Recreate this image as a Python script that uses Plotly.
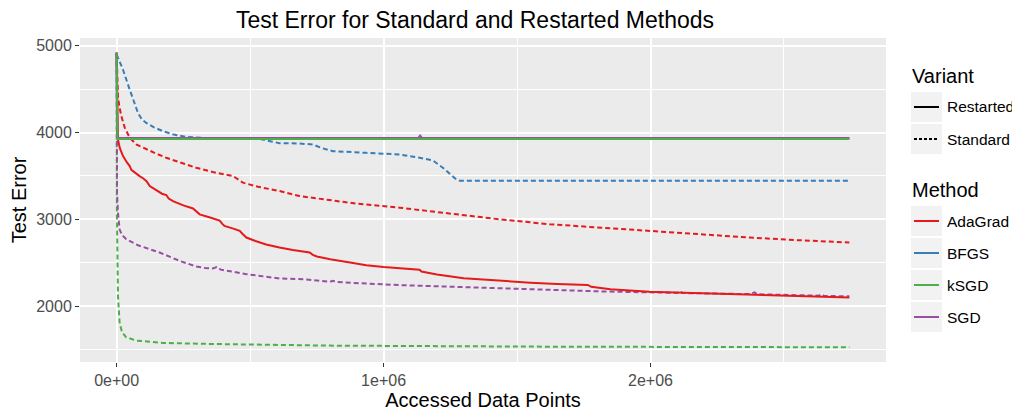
import plotly.graph_objects as go

# ---------------- data ----------------
methods = ["AdaGrad", "BFGS", "kSGD", "SGD"]
variants = ["Restarted", "Standard"]
colors = {"AdaGrad": "#E41A1C", "BFGS": "#377EB8", "kSGD": "#4DAF4A", "SGD": "#984EA3"}

adagrad_std_x = [0, 2000, 5000, 10000, 18000, 30000, 49000, 75000, 111000, 150000, 186000, 240000,
                 298000, 360000, 436000, 450000, 473000, 530000, 610000, 685000, 798000, 900000,
                 1060000, 1250000, 1434000, 1622000, 1810000, 1996000, 2200000, 2371000, 2550000, 2745000]
adagrad_std_y = [4920, 4650, 4417, 4300, 4187, 4060, 3939, 3860, 3805, 3755, 3709, 3650,
                 3594, 3545, 3498, 3470, 3422, 3375, 3326, 3268, 3222, 3180,
                 3134, 3065, 3000, 2943, 2905, 2859, 2820, 2790, 2760, 2732]

bfgs_std_x = [0, 24000, 49000, 80000, 95000, 111000, 140000, 174000, 210000, 261000, 340000, 423000,
              536000, 575000, 610000, 685000, 735000, 770000, 810000, 935000, 1060000, 1135000,
              1185000, 1222000, 1250000, 1272000, 1285000, 2745000]
bfgs_std_y = [4900, 4724, 4494, 4226, 4150, 4111, 4060, 4015, 3980, 3950, 3935, 3931,
              3927, 3900, 3878, 3874, 3862, 3820, 3785, 3766, 3747, 3709,
              3678, 3594, 3520, 3460, 3445, 3445]

ksgd_std_x = [0, 500, 1000, 5000, 11000, 20000, 36000, 74000, 174000, 360000, 798000, 1622000, 2745000]
ksgd_std_y = [4900, 4030, 3077, 2118, 1813, 1700, 1640, 1602, 1575, 1563, 1544, 1532, 1525]

sgd_std_x = [0, 1500, 5000, 11000, 20000, 36000, 80000, 161000, 236000, 298000, 330000, 360000,
             375000, 390000, 486000, 610000, 698000, 798000, 810000, 822000, 1060000, 1300000,
             1434000, 1622000, 1810000, 1996000, 2100000, 2110000, 2120000, 2371000, 2390000,
             2400000, 2630000, 2640000, 2650000, 2745000]
sgd_std_y = [4920, 3300, 3077, 2885, 2820, 2770, 2701, 2617, 2521, 2456, 2440, 2433,
             2450, 2420, 2368, 2318, 2310, 2279, 2292, 2277, 2241, 2215,
             2203, 2187, 2169, 2158, 2152, 2172, 2150, 2138, 2158,
             2136, 2120, 2136, 2118, 2112]

adagrad_rst_x = [0, 3000, 5000, 12000, 24000, 40000, 49000, 55000, 70000, 86000, 100000, 112000,
                 124000, 150000, 170000, 186000, 195000, 211000, 250000, 286000, 300000, 311000,
                 350000, 386000, 395000, 404000, 440000, 461000, 472000, 486000, 520000, 560000,
                 610000, 660000, 723000, 735000, 750000, 800000, 880000, 935000, 1000000, 1060000,
                 1135000, 1142000, 1200000, 1300000, 1434000, 1550000, 1650000, 1765000, 1778000,
                 1850000, 1996000, 2150000, 2371000, 2550000, 2745000]
adagrad_rst_y = [4920, 4100, 3920, 3820, 3728, 3650, 3613, 3570, 3530, 3498, 3470, 3440,
                 3383, 3330, 3295, 3280, 3240, 3210, 3160, 3125, 3080, 3057,
                 3020, 2985, 2950, 2923, 2890, 2866, 2830, 2790, 2750, 2710,
                 2675, 2645, 2617, 2590, 2572, 2540, 2500, 2470, 2450, 2432,
                 2418, 2398, 2365, 2320, 2290, 2270, 2255, 2243, 2222,
                 2195, 2166, 2150, 2128, 2115, 2100]

bfgs_rst_x = [0, 2000, 2745000]
bfgs_rst_y = [4920, 3935, 3935]

sgd_rst_x = [0, 2000, 1130000, 1137000, 1144000, 2745000]
sgd_rst_y = [4920, 3937, 3937, 3965, 3937, 3937]

ksgd_rst_x = [0, 3000, 2745000]
ksgd_rst_y = [4920, 3925, 3925]

x_tickvals = [0, 1000000, 2000000]
x_ticktext = ["0e+00", "1e+06", "2e+06"]
y_tickvals = [2000, 3000, 4000, 5000]
y_ticktext = ["2000", "3000", "4000", "5000"]

# ---------------- figure ----------------
# the page body adds an 8px offset, so the figure is 8px smaller and all
# reference pixel positions are shifted by OFF.
OFF = 8
W, H = 1020 - OFF, 411 - OFF
L, R, T, B = 80 - OFF, 134, 38 - OFF, 49
FONT = "Liberation Sans, Arial, sans-serif"
DASH = "5px,3px"

fig = go.Figure()

series = [
    ("AdaGrad", "Standard", adagrad_std_x, adagrad_std_y),
    ("BFGS", "Standard", bfgs_std_x, bfgs_std_y),
    ("kSGD", "Standard", ksgd_std_x, ksgd_std_y),
    ("SGD", "Standard", sgd_std_x, sgd_std_y),
    ("AdaGrad", "Restarted", adagrad_rst_x, adagrad_rst_y),
    ("BFGS", "Restarted", bfgs_rst_x, bfgs_rst_y),
    ("SGD", "Restarted", sgd_rst_x, sgd_rst_y),
    ("kSGD", "Restarted", ksgd_rst_x, ksgd_rst_y),
]
for m, v, xs, ys in series:
    fig.add_trace(go.Scatter(
        x=xs, y=ys, mode="lines", name=f"{m} ({v})", showlegend=False,
        line=dict(color=colors[m], width=2, dash=("solid" if v == "Restarted" else DASH)),
        hoverinfo="skip",
    ))

xmin, xmax = 0, 2745000
ymin, ymax = 1525, 4920
xpad = (xmax - xmin) * 0.05
ypad = (ymax - ymin) * 0.05

fig.update_layout(
    width=W, height=H,
    margin=dict(l=L, r=R, t=T, b=B, autoexpand=False),
    paper_bgcolor="white",
    plot_bgcolor="#EBEBEB",
    font=dict(family=FONT, color="black"),
    title=dict(text="Test Error for Standard and Restarted Methods",
               x=(475 - OFF) / W, xref="container", xanchor="center",
               y=1 - 4 / H, yref="container", yanchor="top",
               font=dict(size=23, color="black", family=FONT)),
    xaxis=dict(
        range=[xmin - xpad, xmax + xpad], tickvals=x_tickvals, ticktext=x_ticktext,
        showgrid=True, gridcolor="white", gridwidth=2, zeroline=False, automargin=False,
        minor=dict(dtick=500000, tick0=0, showgrid=True, gridcolor="white", gridwidth=1, ticks=""),
        ticks="outside", ticklen=4, tickwidth=1, tickcolor="#333333",
        tickfont=dict(size=16, color="#4D4D4D"),
        title=dict(text="Accessed Data Points", font=dict(size=20, color="black"), standoff=2),
        showline=False,
    ),
    yaxis=dict(
        range=[ymin - ypad, ymax + ypad], tickvals=y_tickvals, ticktext=y_ticktext,
        showgrid=True, gridcolor="white", gridwidth=2, zeroline=False, automargin=False,
        minor=dict(dtick=500, tick0=0, showgrid=True, gridcolor="white", gridwidth=1, ticks=""),
        ticks="outside", ticklen=4, tickwidth=1, tickcolor="#333333",
        tickfont=dict(size=16, color="#4D4D4D"),
        title=dict(text="Test Error", font=dict(size=20, color="black"), standoff=4),
        showline=False,
    ),
)

# ---------------- manual legend (ggplot style) ----------------
pw, ph = W - L - R, H - T - B


def px_x(x):
    return (x - OFF - L) / pw


def px_y(y):
    return (H - B - (y - OFF)) / ph


shapes = []
annotations = []

key_x0, key_x1 = 911, 942
line_x0, line_x1 = 914, 939
text_x = 945


def add_title(text, yc):
    annotations.append(dict(x=px_x(key_x0 - 1), y=px_y(yc), xref="paper", yref="paper",
                            text=text, showarrow=False, xanchor="left", yanchor="middle",
                            font=dict(size=20, color="black", family=FONT)))


def add_key(label, yc, color, dash):
    shapes.append(dict(type="rect", xref="paper", yref="paper",
                       x0=px_x(key_x0), x1=px_x(key_x1), y0=px_y(yc - 15), y1=px_y(yc + 15),
                       fillcolor="#F2F2F2", line=dict(width=0), layer="below"))
    shapes.append(dict(type="line", xref="paper", yref="paper",
                       x0=px_x(line_x0), x1=px_x(line_x1), y0=px_y(yc), y1=px_y(yc),
                       line=dict(color=color, width=2, dash=dash)))
    annotations.append(dict(x=px_x(text_x), y=px_y(yc), xref="paper", yref="paper",
                            text=label, showarrow=False, xanchor="left", yanchor="middle",
                            font=dict(size=15.5, color="black", family=FONT)))


add_title("Variant", 76)
variant_y = [107, 139]
for vname, yc in zip(variants, variant_y):
    add_key(vname, yc, "black", "solid" if vname == "Restarted" else "3px,2px")

add_title("Method", 190)
method_y = [221, 253, 285, 317]
for mname, yc in zip(methods, method_y):
    add_key(mname, yc, colors[mname], "solid")

fig.update_layout(shapes=shapes, annotations=annotations)

fig.write_html("out.html")
